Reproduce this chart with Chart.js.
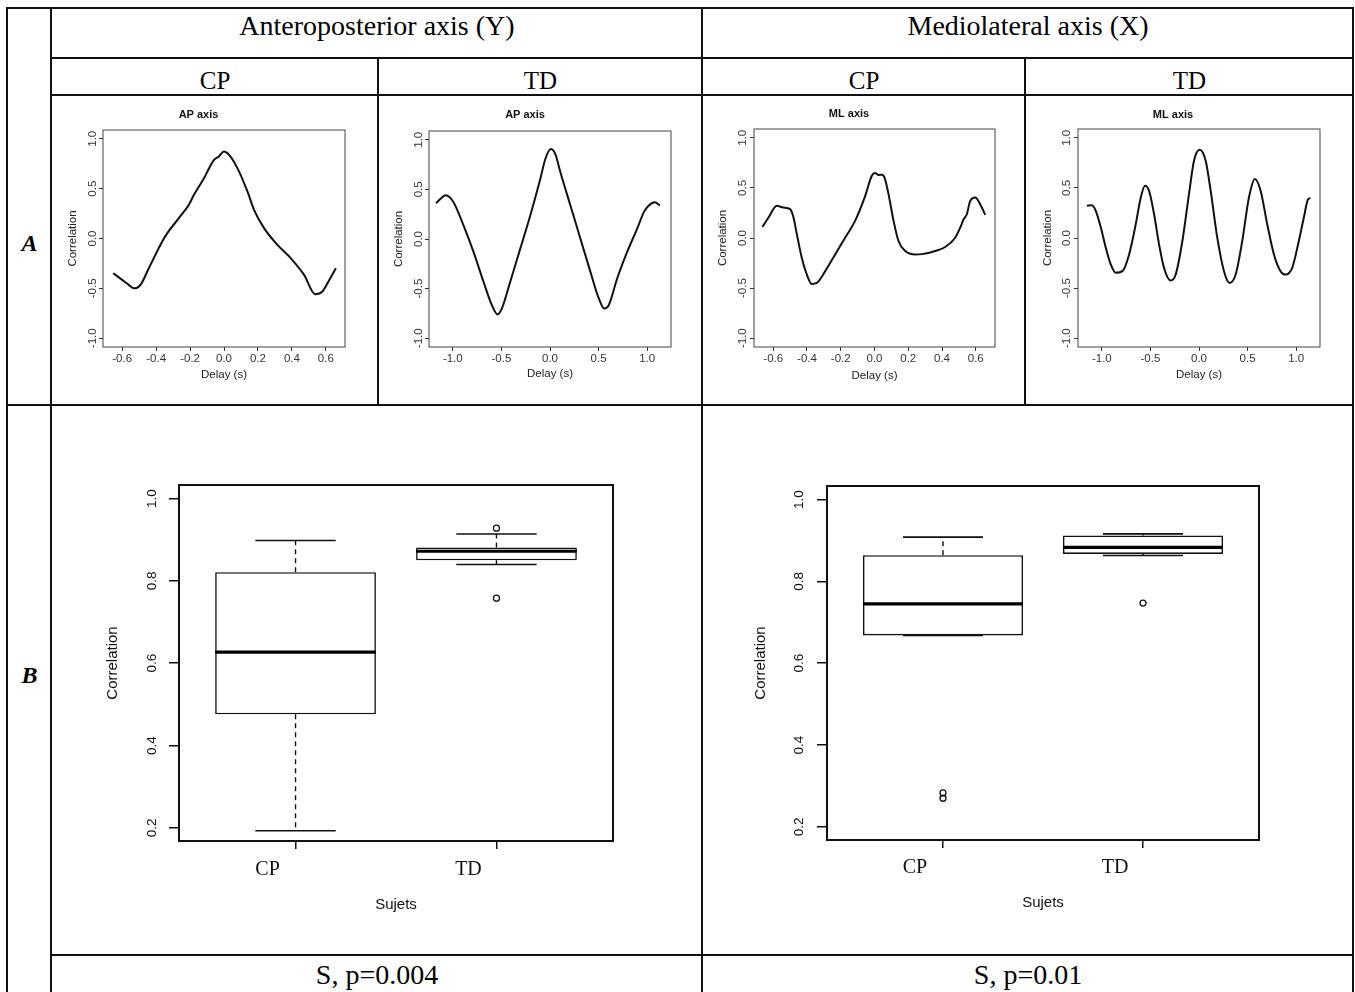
<!DOCTYPE html>
<html>
<head>
<meta charset="utf-8">
<script src="https://cdn.jsdelivr.net/npm/chart.js@4.4.0/dist/chart.umd.min.js"></script>
<style>
    body { margin: 0; background: #fff; width: 1355px; height: 992px; overflow: hidden; position: relative;
           font-family: "Liberation Serif", "Times New Roman", serif; color: #000; }
    .h, .v { position: absolute; background: #111; }
    .h { height: 2px; }
    .v { width: 2px; }
    .txt { position: absolute; text-align: center; white-space: nowrap; }
    canvas { position: absolute; }
</style>
</head>
<body>

<!-- table rules -->
<div class="h" style="left:6px;top:7px;width:1348px"></div>
<div class="h" style="left:50px;top:57px;width:1304px"></div>
<div class="h" style="left:50px;top:94px;width:1304px"></div>
<div class="h" style="left:6px;top:404px;width:1348px"></div>
<div class="h" style="left:50px;top:954px;width:1304px"></div>
<div class="v" style="left:6px;top:7px;height:990px"></div>
<div class="v" style="left:50px;top:7px;height:990px"></div>
<div class="v" style="left:377px;top:57px;height:348px"></div>
<div class="v" style="left:701px;top:7px;height:990px"></div>
<div class="v" style="left:1024px;top:57px;height:348px"></div>
<div class="v" style="left:1352px;top:7px;height:990px"></div>

<div class="txt" style="left:52px;width:650px;top:12px;font-size:28px;line-height:28px">Anteroposterior axis (Y)</div>
<div class="txt" style="left:703px;width:650px;top:12px;font-size:28px;line-height:28px">Mediolateral axis (X)</div>
<div class="txt" style="left:52px;width:326px;top:68px;font-size:25px;line-height:25px">CP</div>
<div class="txt" style="left:379px;width:323px;top:68px;font-size:25px;line-height:25px">TD</div>
<div class="txt" style="left:703px;width:322px;top:68px;font-size:25px;line-height:25px">CP</div>
<div class="txt" style="left:1026px;width:327px;top:68px;font-size:25px;line-height:25px">TD</div>
<div class="txt" style="left:8px;width:43px;top:231px;font-size:24px;line-height:24px;font-weight:bold;font-style:italic">A</div>
<div class="txt" style="left:8px;width:43px;top:663px;font-size:24px;line-height:24px;font-weight:bold;font-style:italic">B</div>
<div class="txt" style="left:52px;width:650px;top:961px;font-size:28px;line-height:28px">S, p=0.004</div>
<div class="txt" style="left:703px;width:650px;top:961px;font-size:28px;line-height:28px">S, p=0.01</div>

<canvas id="apCp" width="325" height="308" style="left:52px;top:96px"></canvas>
<canvas id="apTd" width="322" height="308" style="left:379px;top:96px"></canvas>
<canvas id="mlCp" width="321" height="308" style="left:703px;top:96px"></canvas>
<canvas id="mlTd" width="326" height="308" style="left:1026px;top:96px"></canvas>
<canvas id="apBox" width="649" height="548" style="left:52px;top:406px"></canvas>
<canvas id="mlBox" width="649" height="548" style="left:703px;top:406px"></canvas>

<script>
// ---- cross-correlation curves (delay in s, correlation) ----
const apCpDelay = [-0.653, -0.60, -0.561, -0.53, -0.492, -0.443, -0.364, -0.334, -0.266, -0.207, -0.177, -0.118, -0.059, -0.03,
    0.0, 0.03, 0.079, 0.138, 0.177, 0.236, 0.315, 0.393, 0.472, 0.537, 0.58, 0.61, 0.659];
const apCpCorr = [-0.348, -0.415, -0.465, -0.50, -0.465, -0.298, -0.03, 0.054, 0.204, 0.338, 0.438, 0.605, 0.789, 0.823,
    0.873, 0.839, 0.706, 0.472, 0.288, 0.104, -0.064, -0.197, -0.365, -0.559, -0.532, -0.448, -0.298];

const apTdDelay = [-1.172, -1.12, -1.075, -0.993, -0.89, -0.787, -0.684, -0.598, -0.54, -0.495, -0.409, -0.306, -0.203, -0.1,
    -0.048, 0.008, 0.055, 0.107, 0.21, 0.313, 0.416, 0.502, 0.558, 0.605, 0.691, 0.794, 0.897, 0.966, 1.017, 1.08, 1.131];
const apTdCorr = [0.361, 0.41, 0.44, 0.371, 0.137, -0.13, -0.431, -0.666, -0.76, -0.699, -0.431, -0.097, 0.237, 0.605,
    0.806, 0.906, 0.856, 0.672, 0.338, 0.003, -0.331, -0.599, -0.70, -0.666, -0.398, -0.13, 0.104, 0.271, 0.338, 0.37, 0.338];

const mlCpDelay = [-0.664, -0.628, -0.579, -0.54, -0.50, -0.48, -0.46, -0.431, -0.401, -0.372, -0.342, -0.292, -0.233, -0.174,
    -0.115, -0.055, -0.016, 0.004, 0.024, 0.043, 0.059, 0.083, 0.113, 0.142, 0.182, 0.241, 0.281, 0.36, 0.419, 0.478,
    0.508, 0.528, 0.547, 0.567, 0.597, 0.626, 0.656];
const mlCpCorr = [0.110, 0.204, 0.321, 0.304, 0.288, 0.204, 0.037, -0.197, -0.365, -0.458, -0.448, -0.331, -0.164, 0.003,
    0.171, 0.421, 0.622, 0.649, 0.629, 0.632, 0.605, 0.438, 0.171, -0.030, -0.130, -0.164, -0.161, -0.130, -0.090, 0.003,
    0.104, 0.187, 0.237, 0.371, 0.405, 0.338, 0.231];

const mlTdDelay = [-1.154, -1.103, -1.062, -1.01, -0.959, -0.908, -0.856, -0.788, -0.719, -0.651, -0.599, -0.555, -0.514,
    -0.462, -0.411, -0.36, -0.291, -0.24, -0.171, -0.103, -0.051, 0.007, 0.068, 0.12, 0.188, 0.257, 0.315, 0.377, 0.445,
    0.514, 0.575, 0.634, 0.702, 0.771, 0.839, 0.89, 0.959, 1.027, 1.079, 1.123, 1.147];
const mlTdCorr = [0.321, 0.328, 0.271, 0.104, -0.097, -0.264, -0.348, -0.331, -0.164, 0.137, 0.405, 0.522, 0.472,
    0.237, -0.064, -0.298, -0.425, -0.365, -0.030, 0.438, 0.773, 0.880, 0.773, 0.472, 0.003, -0.331, -0.448, -0.365, -0.030,
    0.405, 0.589, 0.472, 0.137, -0.164, -0.331, -0.365, -0.298, -0.030, 0.204, 0.388, 0.398];

const corrTicks = [-1.0, -0.5, 0.0, 0.5, 1.0];
const shortDelayTicks = [-0.6, -0.4, -0.2, 0.0, 0.2, 0.4, 0.6];
const longDelayTicks = [-1.0, -0.5, 0.0, 0.5, 1.0];

// ---- box plots of peak correlation per group ----
const groups = ['CP', 'TD'];
const apLowWhisker = [0.193, 0.840];
const apQ1 = [0.476, 0.850];
const apMedian = [0.627, 0.872];
const apQ3 = [0.821, 0.881];
const apHighWhisker = [0.898, 0.914];
const apOutliers = [[], [0.928, 0.758]];

const mlLowWhisker = [0.668, 0.863];
const mlQ1 = [0.668, 0.867];
const mlMedian = [0.745, 0.883];
const mlQ3 = [0.864, 0.912];
const mlHighWhisker = [0.908, 0.916];
const mlOutliers = [[0.283, 0.270], [0.747]];

const boxTicks = [0.2, 0.4, 0.6, 0.8, 1.0];

Chart.defaults.font.family = '"Liberation Sans", Arial, sans-serif';
Chart.defaults.color = '#222';
Chart.defaults.animation = false;

// draws the R-style box around the plotting region
const framePlugin = {
    id: 'frame',
    afterDatasetsDraw(chart, args, opts) {
        const { ctx, chartArea: a } = chart;
        ctx.save();
        ctx.strokeStyle = opts.color || '#444';
        ctx.lineWidth = opts.width || 1;
        ctx.strokeRect(a.left, a.top, a.right - a.left, a.bottom - a.top);
        ctx.restore();
    }
};

function fixedTicks(values) {
    return (scale) => { scale.ticks = values.map(v => ({ value: v })); };
}

function curveChart(id, title, delays, corr, xTicks, xLimit, box) {
    const points = delays.map((d, i) => ({ x: d, y: corr[i] }));
    const tickSize = 11.5;
    const tickLh = tickSize * 1.2;
    const labLh = 11.5 * 1.2;
    const canvas = document.getElementById(id);
    const h = canvas.height;

    new Chart(canvas, {
        type: 'line',
        data: {
            datasets: [{
                data: points,
                borderColor: '#111',
                borderWidth: 2,
                pointRadius: 0,
                cubicInterpolationMode: 'monotone',
                fill: false
            }]
        },
        options: {
            responsive: false,
            events: [],
            layout: { padding: { top: 0, right: box.right, left: 0, bottom: 0 } },
            plugins: {
                legend: { display: false },
                tooltip: { enabled: false },
                frame: { color: '#444', width: 1 },
                title: {
                    display: true,
                    text: title,
                    color: '#111',
                    font: { size: 11, weight: 'bold' },
                    padding: { top: box.titleY - 6.6, bottom: box.top - box.titleY - 6.6 }
                }
            },
            scales: {
                x: {
                    type: 'linear',
                    min: -xLimit,
                    max: xLimit,
                    afterBuildTicks: fixedTicks(xTicks),
                    afterFit: (s) => { s.height = box.bottom; },
                    border: { display: false },
                    grid: { drawOnChartArea: false, tickLength: 4, color: '#333' },
                    ticks: {
                        autoSkip: false, maxRotation: 0, color: '#333', font: { size: tickSize },
                        padding: 12 - 4 - tickLh / 2,
                        callback: (v) => v.toFixed(1)
                    },
                    title: {
                        display: true, text: 'Delay (s)', color: '#222', font: { size: 11.5 },
                        padding: { top: 0, bottom: h - box.xlabY - labLh / 2 }
                    }
                },
                y: {
                    type: 'linear',
                    min: -1.088,
                    max: 1.088,
                    afterBuildTicks: fixedTicks(corrTicks),
                    afterFit: (s) => { s.width = box.left; },
                    border: { display: false },
                    grid: { drawOnChartArea: false, tickLength: 4, color: '#333' },
                    ticks: {
                        autoSkip: false, minRotation: 90, maxRotation: 90, crossAlign: 'center',
                        color: '#333', font: { size: tickSize },
                        padding: box.ytickD - 4 - 1.723 * tickSize / 2,
                        callback: (v) => v.toFixed(1)
                    },
                    title: {
                        display: true, text: 'Correlation', color: '#222', font: { size: 11.5 },
                        padding: { top: box.ylabX - labLh / 2, bottom: 0 }
                    }
                }
            }
        },
        plugins: [framePlugin]
    });
}

function boxChart(id, lowW, q1, med, q3, highW, outliers, box) {
    const canvas = document.getElementById(id);
    const h = canvas.height;
    const labLh = 15 * 1.2;
    const boxes = [], medians = [], whiskers = [], staples = [], dots = [];

    groups.forEach((g, i) => {
        const x = i + 1;
        boxes.push({ x: x, y: [q1[i], q3[i]] });
        medians.push({ x: x - 0.4, y: med[i] }, { x: x + 0.4, y: med[i] }, { x: x + 0.5, y: null });
        whiskers.push({ x: x, y: q3[i] }, { x: x, y: highW[i] }, { x: x, y: null },
                      { x: x, y: q1[i] }, { x: x, y: lowW[i] }, { x: x + 0.5, y: null });
        staples.push({ x: x - 0.2, y: highW[i] }, { x: x + 0.2, y: highW[i] }, { x: x + 0.3, y: null },
                     { x: x - 0.2, y: lowW[i] }, { x: x + 0.2, y: lowW[i] }, { x: x + 0.5, y: null });
        outliers[i].forEach(v => dots.push({ x: x, y: v }));
    });

    new Chart(canvas, {
        type: 'bar',
        data: {
            datasets: [
                { type: 'line', data: medians, borderColor: '#000', borderWidth: 3.2, pointRadius: 0, spanGaps: false, order: 0 },
                { type: 'line', data: staples, borderColor: '#111', borderWidth: 1.6, pointRadius: 0, spanGaps: false, order: 1 },
                { type: 'line', data: whiskers, borderColor: '#111', borderWidth: 1.4, borderDash: [5, 4], pointRadius: 0, spanGaps: false, order: 2 },
                { type: 'line', data: dots, showLine: false, pointRadius: 3, pointBorderWidth: 1.3,
                  pointBorderColor: '#111', pointBackgroundColor: 'rgba(0,0,0,0)', order: 3 },
                { type: 'bar', data: boxes, backgroundColor: '#fff', borderColor: '#111', borderWidth: 1.6,
                  borderSkipped: false, categoryPercentage: 1, barPercentage: 0.8, order: 10 }
            ]
        },
        options: {
            responsive: false,
            events: [],
            layout: { padding: { top: box.top, right: box.right, left: 0, bottom: 0 } },
            plugins: {
                legend: { display: false },
                tooltip: { enabled: false },
                frame: { color: '#111', width: 2 }
            },
            scales: {
                x: {
                    type: 'linear',
                    offset: false,
                    min: 0.42,
                    max: 2.58,
                    afterBuildTicks: fixedTicks([1, 2]),
                    afterFit: (s) => { s.height = box.bottom; },
                    border: { display: false },
                    grid: { offset: false, drawOnChartArea: false, tickLength: 8, color: '#111', lineWidth: 1.5 },
                    ticks: {
                        autoSkip: false, maxRotation: 0, color: '#111', labelOffset: -28,
                        font: { family: '"Liberation Serif", "Times New Roman", serif', size: 20 },
                        padding: box.xtickGap - 8 - 12,
                        callback: (v) => groups[v - 1]
                    },
                    title: {
                        display: true, text: 'Sujets', color: '#111', font: { size: 15 },
                        padding: { top: 0, bottom: h - box.xlabY - labLh / 2 }
                    }
                },
                y: {
                    type: 'linear',
                    min: 0.168,
                    max: 1.033,
                    afterBuildTicks: fixedTicks(boxTicks),
                    afterFit: (s) => { s.width = box.left; },
                    border: { display: false },
                    grid: { drawOnChartArea: false, tickLength: 10, color: '#111', lineWidth: 1.5 },
                    ticks: {
                        autoSkip: false, minRotation: 90, maxRotation: 90, crossAlign: 'center',
                        color: '#111', font: { size: 13.5 },
                        padding: box.ytickD - 10 - 9.4,
                        callback: (v) => v.toFixed(1)
                    },
                    title: {
                        display: true, text: 'Correlation', color: '#111', font: { size: 15 },
                        padding: { top: box.ylabX - labLh / 2, bottom: 0 }
                    }
                }
            }
        },
        plugins: [framePlugin]
    });
}

curveChart('apCp', 'AP axis', apCpDelay, apCpCorr, shortDelayTicks, 0.713,
    { left: 51, right: 32, top: 34, bottom: 57, titleY: 19, ylabX: 21.3, xlabY: 279, ytickD: 10 });
curveChart('apTd', 'AP axis', apTdDelay, apTdCorr, longDelayTicks, 1.245,
    { left: 50, right: 30, top: 35, bottom: 57, titleY: 19, ylabX: 19.7, xlabY: 278.3, ytickD: 10.3 });
curveChart('mlCp', 'ML axis', mlCpDelay, mlCpCorr, shortDelayTicks, 0.714,
    { left: 51, right: 29, top: 33, bottom: 57, titleY: 18, ylabX: 19.7, xlabY: 280, ytickD: 11 });
curveChart('mlTd', 'ML axis', mlTdDelay, mlTdCorr, longDelayTicks, 1.245,
    { left: 52, right: 32, top: 33, bottom: 57, titleY: 19, ylabX: 21.7, xlabY: 279, ytickD: 11 });

boxChart('apBox', apLowWhisker, apQ1, apMedian, apQ3, apHighWhisker, apOutliers,
    { left: 127, right: 88, top: 79, bottom: 113, ytickD: 27, ylabX: 61, xtickGap: 29, xlabY: 499 });
boxChart('mlBox', mlLowWhisker, mlQ1, mlMedian, mlQ3, mlHighWhisker, mlOutliers,
    { left: 124, right: 93, top: 80, bottom: 114, ytickD: 28, ylabX: 57.7, xtickGap: 28, xlabY: 497 });
</script>
</body>
</html>
